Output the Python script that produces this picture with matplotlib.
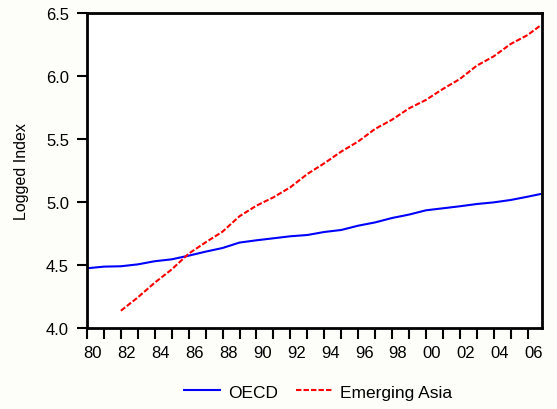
import matplotlib
matplotlib.use("Agg")
import matplotlib.pyplot as plt
import numpy as np

# ---- data ----
years = [1980, 1981, 1982, 1983, 1984, 1985, 1986, 1987, 1988, 1989,
         1990, 1991, 1992, 1993, 1994, 1995, 1996, 1997, 1998, 1999,
         2000, 2001, 2002, 2003, 2004, 2005, 2006, 2006.75]
oecd = [4.474, 4.487, 4.490, 4.505, 4.530, 4.545, 4.574, 4.606, 4.635, 4.678,
        4.696, 4.712, 4.728, 4.738, 4.762, 4.778, 4.812, 4.838, 4.873, 4.900,
        4.934, 4.950, 4.966, 4.984, 4.997, 5.016, 5.042, 5.063]
asia_years = [1982, 1983, 1984, 1985, 1986, 1987, 1988, 1989,
              1990, 1991, 1992, 1993, 1994, 1995, 1996, 1997, 1998, 1999,
              2000, 2001, 2002, 2003, 2004, 2005, 2006, 2006.75]
asia = [4.137, 4.243, 4.360, 4.465, 4.590, 4.680, 4.765, 4.887,
        4.971, 5.037, 5.117, 5.222, 5.307, 5.400, 5.480, 5.580, 5.653, 5.743,
        5.810, 5.897, 5.976, 6.082, 6.156, 6.254, 6.325, 6.400]
series_names = ["OECD", "Emerging Asia"]
ytick_vals = [4.0, 4.5, 5.0, 5.5, 6.0, 6.5]
xlabel_years = list(range(1980, 2007, 2))
xlabel_text = ["%02d" % (y % 100) for y in xlabel_years]

plt.rcParams['font.family'] = ['Liberation Sans', 'DejaVu Sans']

fig = plt.figure(figsize=(5.57, 4.10), dpi=100)
fig.patch.set_facecolor('#fdfdf9')
ax = fig.add_axes([87/557, 1-329/410, (542-87)/557, (329-14)/410])
ax.set_facecolor('white')

l1, = ax.plot(years, oecd, color='#0000ff', lw=1.5, label=series_names[0])
l2, = ax.plot(asia_years, asia, color='#ff0000', lw=1.5, dashes=(2.6, 1.0),
              label=series_names[1])

ax.set_xlim(1980, 2006.85)
ax.set_ylim(4.0, 6.5)

# y axis
ax.set_yticks(ytick_vals)
ax.set_yticklabels(["%.1f" % v for v in ytick_vals])
ax.tick_params(axis='y', direction='out', length=7, width=1.5, labelsize=12,
               pad=6, colors='black')
ax.set_ylabel("Logged Index", fontsize=11.5, labelpad=12)

# x axis: small ticks every year, labels slightly right of tick
ax.set_xticks(list(range(1980, 2007)), minor=True)
ax.set_xticks([y + 0.35 for y in xlabel_years])
ax.set_xticklabels(xlabel_text)
ax.tick_params(axis='x', which='minor', direction='out', length=8, width=1.5)
ax.tick_params(axis='x', which='major', length=0, labelsize=12, pad=12)

for s in ax.spines.values():
    s.set_linewidth(2)
    s.set_color('black')

fig.legend(handles=[l1, l2], loc='center', bbox_to_anchor=(318/557, 1-393/410),
           ncol=2, frameon=False, fontsize=12.5, handlelength=2.1,
           handletextpad=0.45, columnspacing=1.0)

fig.savefig("out.png", dpi=100, facecolor=fig.get_facecolor())
